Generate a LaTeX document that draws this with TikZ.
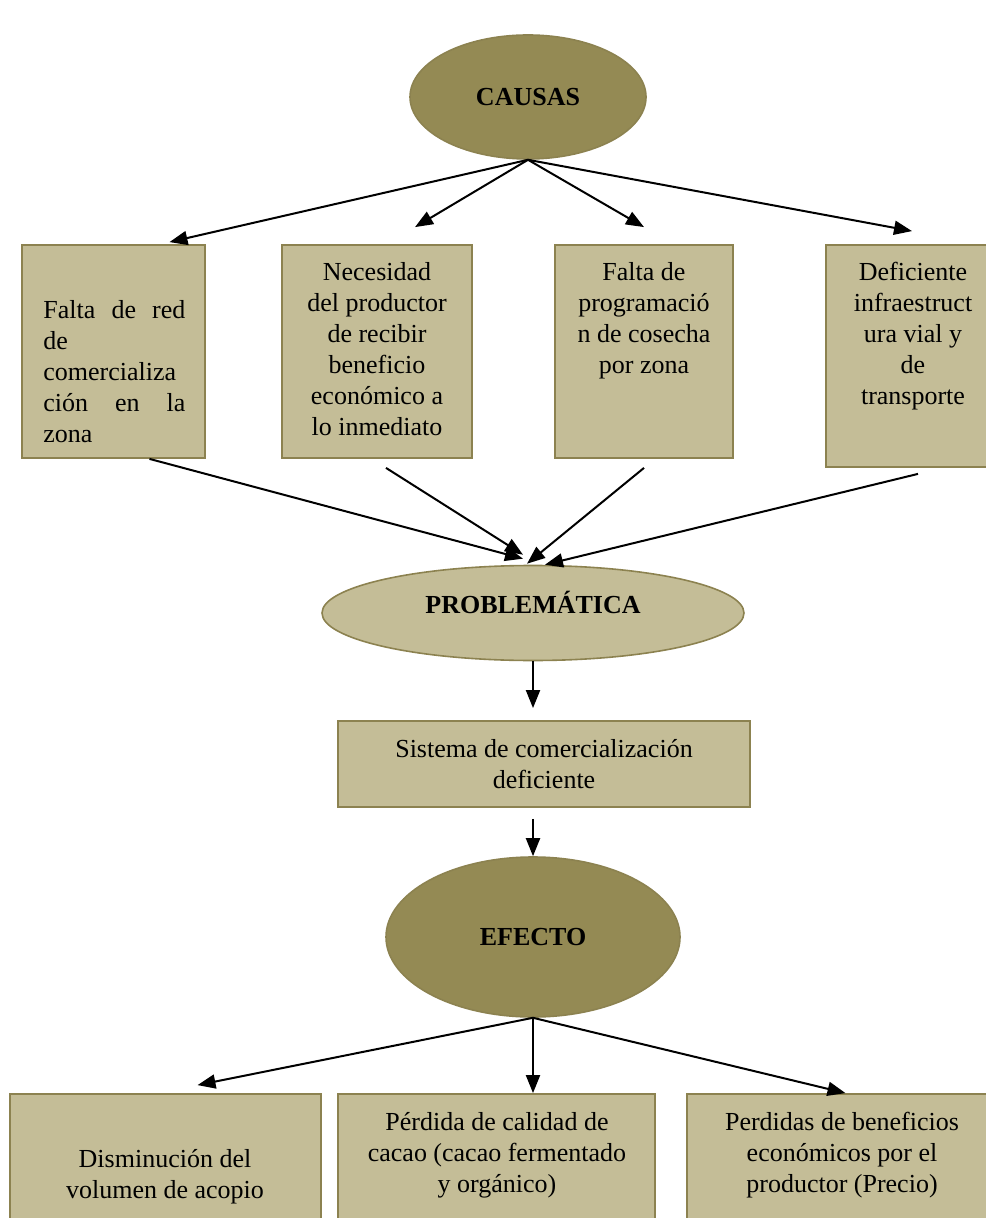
\documentclass[tikz,border=0pt]{standalone}
\usepackage{fontspec}
\setmainfont{Liberation Serif}
\usetikzlibrary{shapes.geometric, positioning, arrows.meta}
\definecolor{OliveDark}{RGB}{148,138,84}
\definecolor{OliveLight}{RGB}{196,189,151}
\definecolor{OliveLine}{RGB}{140,130,80}

\begin{document}
\begin{tikzpicture}[x=0.5pt, y=-0.5pt,
    oval/.style={ellipse, draw=OliveLine, line width=0.8pt, inner sep=0pt,
                 font=\fontsize{13}{15.5}\selectfont\bfseries},
    frame/.style={rectangle, draw=OliveLine, line width=0.9pt, fill=OliveLight,
                  inner sep=0pt},
    txt/.style={align=flush center, font=\fontsize{13}{15.5}\selectfont,
                inner sep=0pt, anchor=base, text width=100pt},
    arr/.style={-{Triangle[length=9pt, width=7pt]}, line width=1pt}
  ]
  \useasboundingbox (0,0) rectangle (985,1218);

  % Top
  \node[oval, fill=OliveDark, minimum width=118pt, minimum height=62pt]
        (causas) at (528,97) {CAUSAS};

  % Causes
  \node[frame, minimum width=91.5pt, minimum height=106.5pt] (falta) at (113.5,351.5) {};
  \node[txt, anchor=base west, align=left, text width=71pt] (faltatxt) at (43,319)
        {Falta\hfill de\hfill red\\de\\comercializa\\ción\hfill en\hfill la\\zona};

  \node[frame, minimum width=95pt, minimum height=106.5pt] (necesidad) at (377,351.5) {};
  \node[txt] (necesidadtxt) at (377,281)
        {Necesidad\\del productor\\de recibir\\beneficio\\económico a\\lo inmediato};

  \node[frame, minimum width=89pt, minimum height=106.5pt] (programa) at (644,351.5) {};
  \node[txt] (programatxt) at (644,281)
        {Falta de\\programació\\n de cosecha\\por zona};

  \node[frame, minimum width=82pt, minimum height=111pt] (infra) at (908,356) {};
  \node[txt] (infratxt) at (913,281)
        {Deficiente\\infraestruct\\ura vial y\\de\\transporte};

  % Problem
  \node[oval, fill=OliveLight, minimum width=211pt, minimum height=47.5pt,
        text height=9pt, text depth=9pt]
        (prob) at (533,613) {PROBLEMÁTICA};

  \node[frame, txt, anchor=center, text width=200pt, minimum width=206pt,
        minimum height=43pt]
        (sistema) at (544,764) {Sistema de comercialización\\deficiente};

  % Effect
  \node[oval, fill=OliveDark, minimum width=147pt, minimum height=80pt]
        (efecto) at (533,937) {EFECTO};

  \node[frame, minimum width=155.5pt, minimum height=68pt] (acopio) at (165.5,1162) {};
  \node[txt, text width=150pt] (acopiotxt) at (165,1167)
        {Disminución del\\volumen de acopio};

  \node[frame, minimum width=158.5pt, minimum height=68pt] (calidad) at (496.5,1162) {};
  \node[txt, text width=150pt] (calidadtxt) at (497,1130)
        {Pérdida de calidad de\\cacao (cacao fermentado\\y orgánico)};

  \node[frame, minimum width=151.5pt, minimum height=68pt] (precio) at (838.5,1162) {};
  \node[txt, text width=150pt] (preciotxt) at (842,1130)
        {Perdidas de beneficios\\económicos por el\\productor (Precio)};

  % Causas -> causes
  \draw[arr] (causas.south) -- ([xshift=28pt, yshift=1pt]falta.north);
  \draw[arr] (causas.south) -- ([xshift=19pt, yshift=8.5pt]necesidad.north);
  \draw[arr] (causas.south) -- ([yshift=8.5pt]programa.north);
  \draw[arr] (causas.south) -- ([xshift=2pt, yshift=6.5pt]infra.north);

  % causes -> problem
  \draw[arr] ([xshift=18pt]falta.south) -- ([xshift=-5pt, yshift=3pt]prob.north);
  \draw[arr] ([xshift=4.5pt, yshift=-4.5pt]necesidad.south) -- ([xshift=-5pt, yshift=5pt]prob.north);
  \draw[arr] ([yshift=-4.5pt]programa.south) -- ([xshift=-3pt, yshift=0.5pt]prob.north);
  \draw[arr] ([xshift=5pt, yshift=-3pt]infra.south) -- ([xshift=6pt]prob.north);

  % chain down the middle
  \draw[arr, shorten >=6pt] (prob.south) -- (prob.south |- sistema.north);
  \draw[arr, shorten <=5.5pt] (efecto.north |- sistema.south) -- (efecto.north);

  % Efecto -> effects
  \draw[arr] (efecto.south) -- ([xshift=16pt, yshift=4pt]acopio.north);
  \draw[arr] (efecto.south) -- (efecto.south |- calidad.north);
  \draw[arr] (efecto.south) -- ([xshift=3.5pt]precio.north);
\end{tikzpicture}
\end{document}
